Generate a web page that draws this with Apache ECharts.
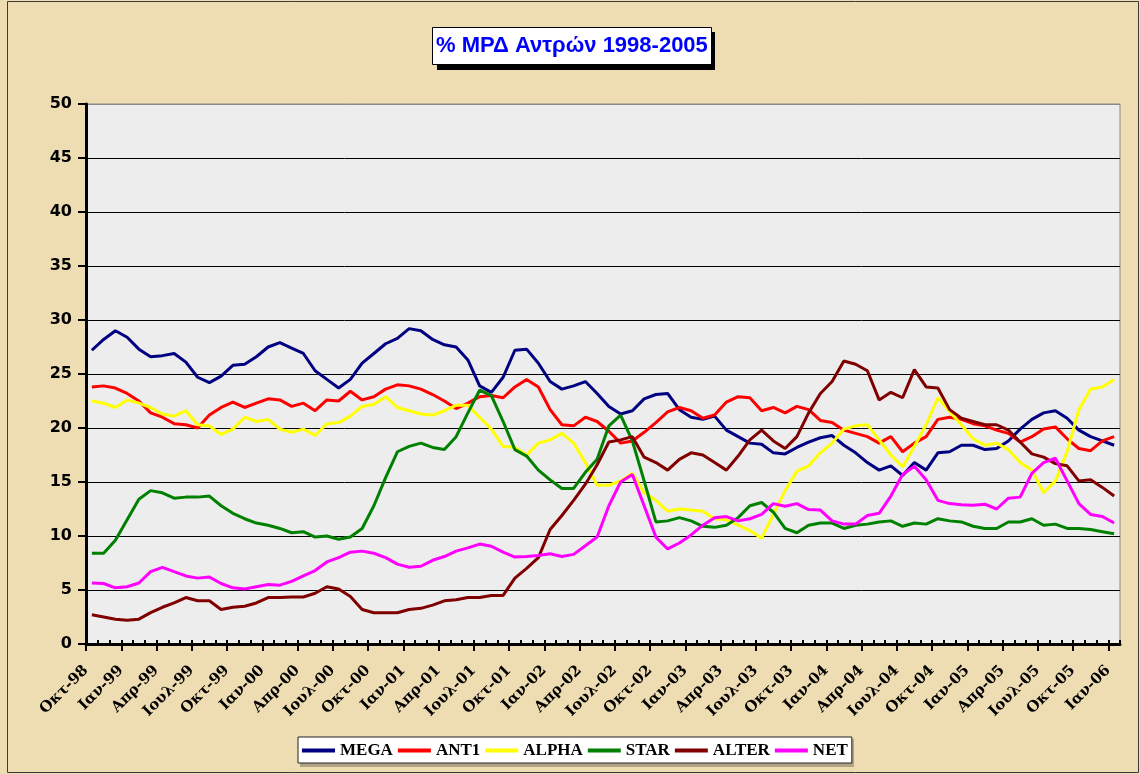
<!DOCTYPE html>
<html>
<head>
<meta charset="utf-8">
<script src="https://cdn.jsdelivr.net/npm/echarts@6/dist/echarts.min.js"></script>
<style>
html,body{margin:0;padding:0;background:#EEDCB2;}
#chart{width:1140px;height:774px;}
</style>
</head>
<body>
<div id="chart"></div>
<script>
var months = [
'Οκτ-98','Νοε-98','Δεκ-98',
'Ιαν-99','Φεβ-99','Μαρ-99','Απρ-99','Μαϊ-99','Ιουν-99','Ιουλ-99','Αυγ-99','Σεπ-99','Οκτ-99','Νοε-99','Δεκ-99',
'Ιαν-00','Φεβ-00','Μαρ-00','Απρ-00','Μαϊ-00','Ιουν-00','Ιουλ-00','Αυγ-00','Σεπ-00','Οκτ-00','Νοε-00','Δεκ-00',
'Ιαν-01','Φεβ-01','Μαρ-01','Απρ-01','Μαϊ-01','Ιουν-01','Ιουλ-01','Αυγ-01','Σεπ-01','Οκτ-01','Νοε-01','Δεκ-01',
'Ιαν-02','Φεβ-02','Μαρ-02','Απρ-02','Μαϊ-02','Ιουν-02','Ιουλ-02','Αυγ-02','Σεπ-02','Οκτ-02','Νοε-02','Δεκ-02',
'Ιαν-03','Φεβ-03','Μαρ-03','Απρ-03','Μαϊ-03','Ιουν-03','Ιουλ-03','Αυγ-03','Σεπ-03','Οκτ-03','Νοε-03','Δεκ-03',
'Ιαν-04','Φεβ-04','Μαρ-04','Απρ-04','Μαϊ-04','Ιουν-04','Ιουλ-04','Αυγ-04','Σεπ-04','Οκτ-04','Νοε-04','Δεκ-04',
'Ιαν-05','Φεβ-05','Μαρ-05','Απρ-05','Μαϊ-05','Ιουν-05','Ιουλ-05','Αυγ-05','Σεπ-05','Οκτ-05','Νοε-05','Δεκ-05',
'Ιαν-06'
];

var yTicks = [0, 5, 10, 15, 20, 25, 30, 35, 40, 45, 50];

var mega = [27.2,28.2,29.0,28.4,27.3,26.6,26.7,26.9,26.1,24.7,24.2,24.8,25.8,25.9,26.6,27.5,27.9,27.4,26.9,25.3,
24.5,23.7,24.5,26.0,26.9,27.8,28.3,29.2,29.0,28.2,27.7,27.5,26.3,23.9,23.3,24.7,27.2,27.3,26.0,24.3,
23.6,23.9,24.3,23.2,22.0,21.3,21.6,22.7,23.1,23.2,21.7,21.0,20.8,21.1,19.8,19.2,18.6,18.5,17.7,17.6,
18.2,18.7,19.1,19.3,18.4,17.7,16.8,16.1,16.5,15.6,16.8,16.1,17.7,17.8,18.4,18.4,18.0,18.1,18.8,19.9,
20.8,21.4,21.6,20.9,19.8,19.2,18.8,18.4];

var ant1 = [23.8,23.9,23.7,23.2,22.5,21.4,21.0,20.4,20.3,20.0,21.2,21.9,22.4,21.9,22.3,22.7,22.6,22.0,22.3,21.6,
22.6,22.5,23.4,22.6,22.9,23.6,24.0,23.9,23.6,23.1,22.5,21.8,22.3,22.9,23.0,22.8,23.8,24.5,23.8,21.7,
20.3,20.2,21.0,20.6,19.7,18.6,18.8,19.6,20.5,21.5,21.9,21.6,20.9,21.2,22.4,22.9,22.8,21.6,21.9,21.4,
22.0,21.7,20.7,20.5,19.8,19.5,19.2,18.6,19.2,17.8,18.6,19.2,20.8,21.0,20.8,20.4,20.2,19.8,19.5,18.7,
19.2,19.9,20.1,19.0,18.1,17.9,18.8,19.2];

var alpha = [22.5,22.3,21.9,22.6,22.3,21.9,21.3,21.1,21.6,20.3,20.2,19.4,19.9,21.0,20.6,20.8,19.9,19.6,19.9,19.3,
20.4,20.5,21.1,22.0,22.2,22.9,21.9,21.6,21.3,21.2,21.6,22.1,22.1,21.0,19.9,18.3,18.2,17.5,18.6,18.9,
19.5,18.6,16.8,14.7,14.7,15.1,15.8,14.0,13.3,12.3,12.5,12.4,12.3,11.6,11.5,11.0,10.5,9.8,12.0,14.2,
16.0,16.5,17.7,18.6,19.9,20.2,20.3,18.9,17.5,16.4,18.3,20.3,22.8,21.5,20.3,19.0,18.4,18.6,18.0,16.8,
16.1,14.0,15.1,17.8,21.7,23.6,23.8,24.5];

var star = [8.4,8.4,9.6,11.5,13.4,14.2,14.0,13.5,13.6,13.6,13.7,12.8,12.1,11.6,11.2,11.0,10.7,10.3,10.4,9.9,
10.0,9.7,9.9,10.7,12.8,15.4,17.8,18.3,18.6,18.2,18.0,19.2,21.4,23.5,23.0,20.6,18.0,17.4,16.1,15.2,
14.4,14.4,15.9,17.1,20.2,21.2,18.8,15.1,11.3,11.4,11.7,11.4,10.9,10.8,11.0,11.7,12.8,13.1,12.2,10.7,
10.3,11.0,11.2,11.2,10.7,11.0,11.1,11.3,11.4,10.9,11.2,11.1,11.6,11.4,11.3,10.9,10.7,10.7,11.3,11.3,
11.6,11.0,11.1,10.7,10.7,10.6,10.4,10.2];

var alter = [2.7,2.5,2.3,2.2,2.3,2.9,3.4,3.8,4.3,4.0,4.0,3.2,3.4,3.5,3.8,4.3,4.3,4.35,4.35,4.7,
5.3,5.1,4.4,3.2,2.9,2.9,2.9,3.2,3.3,3.6,4.0,4.1,4.3,4.3,4.5,4.5,6.1,7.0,8.0,10.6,
11.9,13.3,14.8,16.6,18.7,18.9,19.2,17.3,16.8,16.1,17.1,17.7,17.5,16.8,16.1,17.4,18.9,19.8,18.8,18.1,
19.2,21.4,23.2,24.3,26.2,25.9,25.3,22.6,23.3,22.8,25.4,23.8,23.7,21.7,20.9,20.6,20.3,20.3,19.8,18.7,
17.6,17.3,16.7,16.5,15.1,15.2,14.5,13.7];

var net = [5.65,5.6,5.2,5.3,5.65,6.7,7.1,6.7,6.3,6.1,6.2,5.6,5.2,5.1,5.3,5.5,5.45,5.8,6.3,6.8,
7.6,8.0,8.5,8.6,8.4,8.0,7.4,7.1,7.2,7.75,8.1,8.6,8.9,9.25,9.05,8.5,8.05,8.1,8.2,8.35,
8.1,8.3,9.1,9.9,12.8,15.0,15.7,12.8,9.9,8.8,9.35,10.1,11.0,11.7,11.8,11.4,11.6,12.0,13.0,12.75,
13.0,12.45,12.4,11.4,11.1,11.1,11.9,12.1,13.7,15.7,16.45,15.2,13.3,13.0,12.9,12.85,12.95,12.5,13.5,13.6,
15.8,16.8,17.2,15.1,13.0,12.0,11.8,11.2];

var seriesNames = ['MEGA','ANT1','ALPHA','STAR','ALTER','NET'];
var seriesColors = ['#000080','#FF0000','#FFFF00','#008000','#800000','#FF00FF'];
var seriesData = [mega, ant1, alpha, star, alter, net];

var chart = echarts.init(document.getElementById('chart'), null, {renderer:'canvas'});

var splitColors = yTicks.map(function(v){ return v === 50 ? '#8a8a8a' : '#000000'; });

var option = {
  animation: false,
  backgroundColor: '#EEDCB2',
  title: {
    text: '% ΜΡΔ Αντρών 1998-2005',
    left: 432,
    top: 27,
    padding: [8, 4, 8, 4],
    backgroundColor: '#FFFFFF',
    borderColor: '#000000',
    borderWidth: 1,
    textStyle: {
      fontFamily: 'Liberation Sans, Arial, sans-serif',
      fontWeight: 'bold',
      fontSize: 22,
      color: '#0000FF'
    }
  },
  legend: {
    data: seriesNames,
    left: 298,
    top: 737,
    orient: 'horizontal',
    icon: 'rect',
    itemWidth: 33,
    itemHeight: 4,
    itemGap: 5,
    padding: [5, 4, 4, 4],
    backgroundColor: '#FFFFFF',
    borderColor: '#222222',
    borderWidth: 1,
    textStyle: {
      fontFamily: 'Liberation Serif, Times New Roman, serif',
      fontWeight: 'bold',
      fontSize: 17,
      color: '#000000'
    }
  },
  grid: {
    left: 86,
    top: 104,
    right: 20,
    bottom: 130,
    show: true,
    backgroundColor: '#EDEDED',
    borderColor: '#8a8a8a',
    borderWidth: 1
  },
  xAxis: [
    {
      type: 'category',
      data: months,
      boundaryGap: true,
      position: 'bottom',
      axisLine: { show: true, lineStyle: { color: '#000000', width: 3 } },
      axisTick: { show: true, interval: 0, inside: true, length: 4, lineStyle: { color: '#000000', width: 2 } },
      axisLabel: { show: false },
      splitLine: { show: false }
    },
    {
      type: 'category',
      data: months.concat(['']),
      boundaryGap: false,
      position: 'bottom',
      axisLine: { show: false },
      axisTick: { show: true, interval: 2, inside: false, length: 7, lineStyle: { color: '#000000', width: 2 } },
      axisLabel: {
        show: true,
        interval: 2,
        rotate: 45,
        margin: 24,
        fontFamily: 'DejaVu Serif, serif',
        fontWeight: 'bold',
        fontSize: 15,
        color: '#000000'
      },
      splitLine: { show: false }
    }
  ],
  yAxis: {
    type: 'value',
    min: 0,
    max: 50,
    interval: 5,
    axisLine: { show: true, lineStyle: { color: '#000000', width: 3 } },
    axisTick: { show: true, inside: false, length: 8, lineStyle: { color: '#000000', width: 2 } },
    axisLabel: {
      margin: 14,
      fontFamily: 'DejaVu Sans, Verdana, sans-serif',
      fontWeight: 'bold',
      fontSize: 16,
      color: '#000000'
    },
    splitLine: { show: true, lineStyle: { color: splitColors, width: 1 } }
  },
  graphic: [
    {
      type: 'rect',
      silent: true,
      z: 0,
      shape: { x: 437, y: 32, width: 278, height: 38 },
      style: { fill: '#000000' }
    },
    {
      type: 'rect',
      silent: true,
      z: 0,
      shape: { x: 300, y: 739, width: 554, height: 28 },
      style: { fill: 'rgba(0,0,0,0.25)' }
    },
    {
      type: 'rect',
      silent: true,
      shape: { x: 7.5, y: 1.5, width: 1131, height: 771 },
      style: { fill: 'none', stroke: '#3a3a3a', lineWidth: 1 }
    }
  ],
  series: seriesNames.map(function(name, k){
    return {
      name: name,
      type: 'line',
      xAxisIndex: 0,
      data: seriesData[k],
      showSymbol: false,
      symbol: 'none',
      color: seriesColors[k],
      lineStyle: { color: seriesColors[k], width: 3 },
      z: 3 + k
    };
  })
};

chart.setOption(option);
</script>
</body>
</html>
